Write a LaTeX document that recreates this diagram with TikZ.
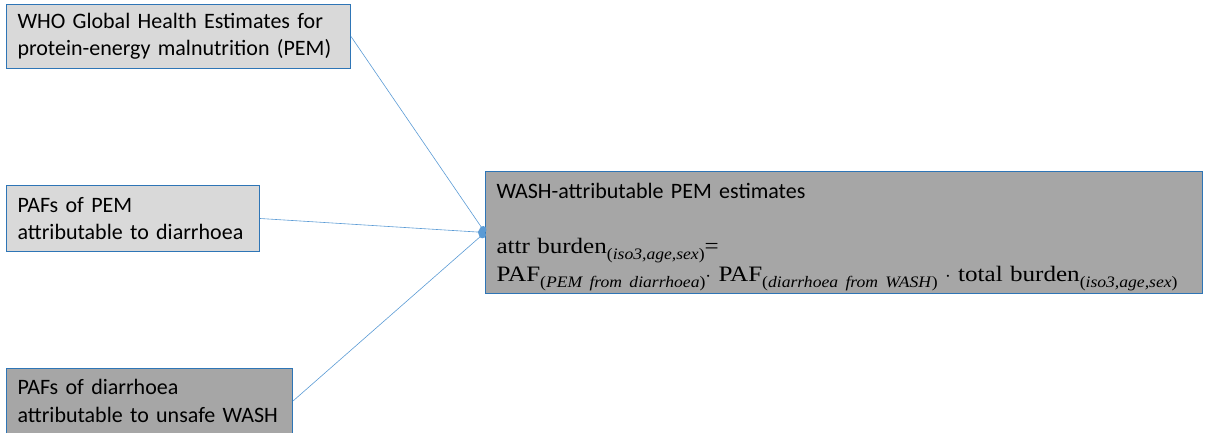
\documentclass[tikz,border=0pt]{standalone}
\usepackage{fontspec}
\setmainfont{Carlito}
\newfontfamily\eqfont[FakeStretch=1.14]{Liberation Serif}
\newfontfamily\subfont[FakeStretch=1.1]{Liberation Serif}
\usetikzlibrary{arrows.meta}
\definecolor{edge}{HTML}{2E75B6}
\definecolor{wire}{HTML}{5B9BD5}
\definecolor{lightg}{HTML}{D9D9D9}
\definecolor{darkg}{HTML}{A6A6A6}
\newcommand\lowtxt[1]{\raisebox{-6pt}{\fontsize{16}{16}\selectfont\subfont(\textit{#1})}}
\tikzset{
  box/.style={rectangle,draw=edge,fill=lightg,line width=1pt,anchor=north west,align=left,
              text=black,font=\fontsize{22}{27.5}\selectfont,inner xsep=11pt,inner ysep=0pt},
  darkb/.style={box,fill=darkg},
  wr/.style={-{Circle[length=7pt]},line width=0.6pt,draw=wire},
}

\begin{document}
\begin{tikzpicture}[x=1pt,y=1pt]
\useasboundingbox (0,0) rectangle (1205,433);
\node[box, text width=322pt, minimum height=64pt] at (6,429) (who)
  {WHO Global Health Estimates for\\protein-energy malnutrition (PEM)};
\node[box, text width=231pt, minimum height=66pt] at (6,248) (pafpem)
  {PAFs of PEM\\attributable to diarrhoea};
\node[darkb, text width=695pt, minimum height=122pt, font=\fontsize{22}{28}\selectfont] at (485,262) (wash)
  {\rule{0pt}{25pt}WASH-attributable PEM estimates\\[27pt]
   \mbox{\eqfont\fontsize{22}{22}\selectfont attr burden\lowtxt{iso3,age,sex}=}\\
   \mbox{\eqfont\fontsize{22}{22}\selectfont PAF\lowtxt{PEM from diarrhoea}$\cdot$ PAF\lowtxt{diarrhoea from WASH} $\cdot$ total burden\lowtxt{iso3,age,sex}}};
\node[darkb, text width=264pt, minimum height=65pt] at (6,65) (pafwash)
  {PAFs of diarrhoea\\attributable to unsafe WASH};
% inputs into the estimate
\draw[wr] (who.east) -- (wash.west);
\draw[wr] (pafpem.east) -- (wash.west);
\draw[wr] (pafwash.east) -- (wash.west);
\end{tikzpicture}
\end{document}
